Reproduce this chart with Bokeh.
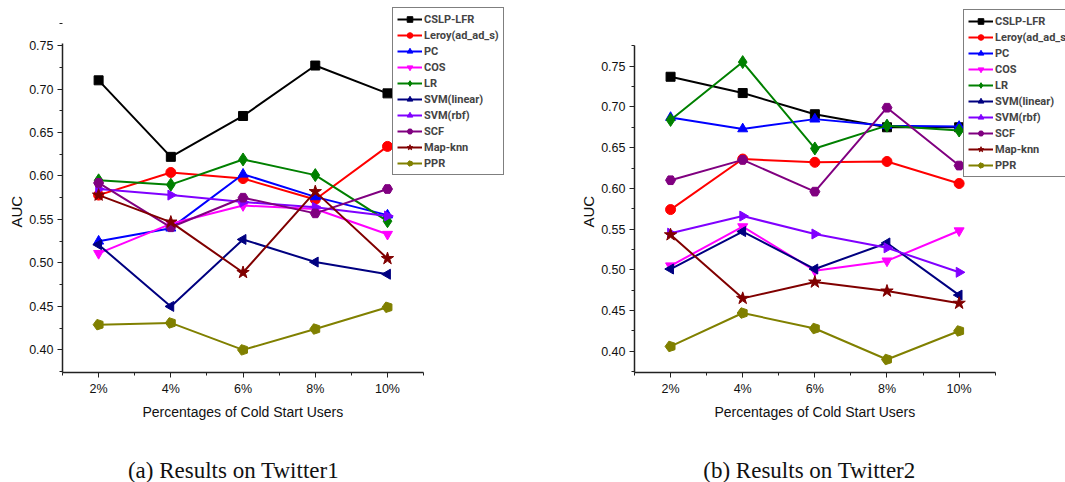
import math
from bokeh.plotting import figure
from bokeh.layouts import row, column
from bokeh.models import (FixedTicker, PrintfTickFormatter, Legend, LegendItem, Title,
                          Range1d, Label)
from bokeh.embed import file_html
from bokeh.resources import INLINE

categories = ["2%", "4%", "6%", "8%", "10%"]
series_names = ["CSLP-LFR", "Leroy(ad_ad_s)", "PC", "COS", "LR", "SVM(linear)",
                "SVM(rbf)", "SCF", "Map-knn", "PPR"]

# Twitter1
t1_cslp_lfr = [0.710, 0.622, 0.669, 0.727, 0.695]
t1_leroy = [0.578, 0.604, 0.597, 0.573, 0.634]
t1_pc = [0.525, 0.540, 0.602, 0.576, 0.555]
t1_cos = [0.511, 0.545, 0.566, 0.562, 0.533]
t1_lr = [0.595, 0.590, 0.619, 0.601, 0.548]
t1_svm_linear = [0.521, 0.450, 0.527, 0.501, 0.487]
t1_svm_rbf = [0.585, 0.578, 0.570, 0.564, 0.554]
t1_scf = [0.592, 0.541, 0.575, 0.557, 0.585]
t1_map_knn = [0.578, 0.547, 0.489, 0.582, 0.505]
t1_ppr = [0.429, 0.431, 0.400, 0.424, 0.449]

# Twitter2
t2_cslp_lfr = [0.737, 0.717, 0.691, 0.675, 0.675]
t2_leroy = [0.574, 0.636, 0.632, 0.633, 0.606]
t2_pc = [0.687, 0.673, 0.685, 0.677, 0.676]
t2_cos = [0.505, 0.553, 0.499, 0.511, 0.548]
t2_lr = [0.684, 0.755, 0.649, 0.677, 0.671]
t2_svm_linear = [0.501, 0.547, 0.501, 0.533, 0.469]
t2_svm_rbf = [0.545, 0.566, 0.544, 0.527, 0.497]
t2_scf = [0.610, 0.635, 0.596, 0.699, 0.628]
t2_map_knn = [0.543, 0.465, 0.485, 0.474, 0.459]
t2_ppr = [0.406, 0.447, 0.428, 0.390, 0.425]

y_ticks = [0.40, 0.45, 0.50, 0.55, 0.60, 0.65, 0.70, 0.75]
y_minor = [0.375, 0.425, 0.475, 0.525, 0.575, 0.625, 0.675, 0.725, 0.775]

captions = ["(a) Results on Twitter1", "(b) Results on Twitter2"]

colors = ["#000000", "#FF0000", "#0000FF", "#FF00FF", "#008000", "#000080",
          "#8000FF", "#800080", "#800000", "#808000"]
markers = ["square", "circle", "triangle", "inverted_triangle", "diamond", "triangle",
           "triangle", "hex", "star", "pentagon"]
angles = [0, 0, 0, 0, 0, math.pi / 2, -math.pi / 2, 0, 0, 0]
sizes = [9, 10, 10, 10, 13, 10, 10, 10, 13, 10]

FONT = "Liberation Sans"
MAIN_H = 434
CAP_H = 48
FRAME_BOTTOM = 371.7


def make_fig(data, width, ylo, yhi, axis_left, axis_px_w, axis_top, br, legend_loc,
             xlabel_offset, ylabel_offset):
    n = len(categories)
    xs = list(range(1, n + 1))
    bl = round(axis_left)
    frame_w = width - bl - br
    frame_h = round(FRAME_BOTTOM)
    bb = MAIN_H - frame_h
    axis_px_h = FRAME_BOTTOM - axis_top
    x_end = 0.5 + n * frame_w / axis_px_w
    y_end = ylo + (yhi - ylo) * frame_h / axis_px_h
    p = figure(width=width, height=MAIN_H, output_backend="svg", toolbar_location=None,
               x_range=Range1d(0.5, x_end), y_range=Range1d(ylo, y_end),
               min_border_left=bl, min_border_right=br, min_border_top=0,
               min_border_bottom=bb)
    p.outline_line_color = None
    p.xgrid.visible = False
    p.ygrid.visible = False
    p.background_fill_color = "white"

    p.xaxis.ticker = FixedTicker(ticks=xs, minor_ticks=[x - 0.5 for x in xs] + [xs[-1] + 0.5])
    p.xaxis.major_label_overrides = {x: c for x, c in zip(xs, categories)}
    p.xaxis.bounds = (0.5, n + 0.5)
    p.yaxis.ticker = FixedTicker(ticks=y_ticks, minor_ticks=y_minor)
    p.yaxis.formatter = PrintfTickFormatter(format="%.2f")
    p.yaxis.bounds = (ylo, yhi)
    for ax in (p.xaxis, p.yaxis):
        ax.axis_line_color = "#222222"
        ax.axis_line_width = 1.5
        ax.major_tick_line_color = "#222222"
        ax.minor_tick_line_color = "#222222"
        ax.major_tick_out = 5
        ax.major_tick_in = 0
        ax.minor_tick_out = 3
        ax.minor_tick_in = 0
        ax.major_label_text_font = FONT
        ax.major_label_text_font_size = "12.5px"
        ax.major_label_text_color = "#111111"
    p.xaxis.major_label_standoff = 4
    p.yaxis.major_label_standoff = 4

    p.add_layout(Title(text="Percentages of Cold Start Users", align="left",
                       offset=xlabel_offset, standoff=6, text_font=FONT,
                       text_font_size="14px", text_font_style="normal",
                       text_color="#111111"), "below")
    p.add_layout(Title(text="AUC", align="left", offset=ylabel_offset, standoff=4,
                       text_font=FONT, text_font_size="15px", text_font_style="normal",
                       text_color="#111111"), "left")

    items = []
    for name, vals, col, mk, ang, sz in zip(series_names, data, colors, markers, angles, sizes):
        lr = p.line(xs, vals, line_color=col, line_width=2)
        if mk == "pentagon":
            try:
                mr = p.ngon(xs, vals, radius=5.5, radius_units="screen", n=5,
                            angle=math.pi / 2, fill_color=col, line_color=col)
            except Exception:
                mr = p.scatter(xs, vals, marker="hex", size=sz, fill_color=col, line_color=col)
        else:
            mr = p.scatter(xs, vals, marker=mk, size=sz, angle=ang,
                           fill_color=col, line_color=col)
        items.append(LegendItem(label=name, renderers=[lr, mr]))

    leg = Legend(items=items, location=legend_loc)
    leg.label_text_font = "Roboto"
    leg.label_text_font_style = "bold"
    leg.label_text_font_size = "11px"
    leg.glyph_width = 25
    leg.glyph_height = 14
    leg.label_height = 14
    leg.spacing = 2
    leg.padding = 4
    leg.margin = 0
    leg.label_standoff = 2
    leg.border_line_color = "black"
    leg.border_line_width = 1
    leg.background_fill_alpha = 1
    p.add_layout(leg, "center")
    return p


def make_caption(width, text, cx):
    c = figure(width=width, height=CAP_H, output_backend="svg", toolbar_location=None,
               x_range=Range1d(0, 1), y_range=Range1d(0, 1),
               x_axis_type=None, y_axis_type=None,
               min_border_left=0, min_border_right=0, min_border_top=0,
               min_border_bottom=0)
    c.outline_line_color = None
    c.xgrid.visible = False
    c.ygrid.visible = False
    c.add_layout(Label(x=cx, y=CAP_H - 36, x_units="screen", y_units="screen", text=text,
                       text_align="center", text_baseline="middle",
                       text_font="Liberation Serif", text_font_size="23px",
                       text_color="#111111"))
    return c


data1 = [t1_cslp_lfr, t1_leroy, t1_pc, t1_cos, t1_lr, t1_svm_linear, t1_svm_rbf,
         t1_scf, t1_map_knn, t1_ppr]
data2 = [t2_cslp_lfr, t2_leroy, t2_pc, t2_cos, t2_lr, t2_svm_linear, t2_svm_rbf,
         t2_scf, t2_map_knn, t2_ppr]

W1, W2 = 566, 499
p1 = make_fig(data1, W1, 0.374, 0.752, 62, 361.1, 43, 0, (330, 197), 80, 145)
p2 = make_fig(data2, W2, 0.374, 0.775, 68, 360.7, 45, 0, (329, 195), 80, 145)
c1 = make_caption(W1, captions[0], 233)
c2 = make_caption(W2, captions[1], 809 - W1)

layout = column(row(p1, p2, spacing=0), row(c1, c2, spacing=0), spacing=0)
open("out.html", "w").write(file_html(layout, INLINE))
